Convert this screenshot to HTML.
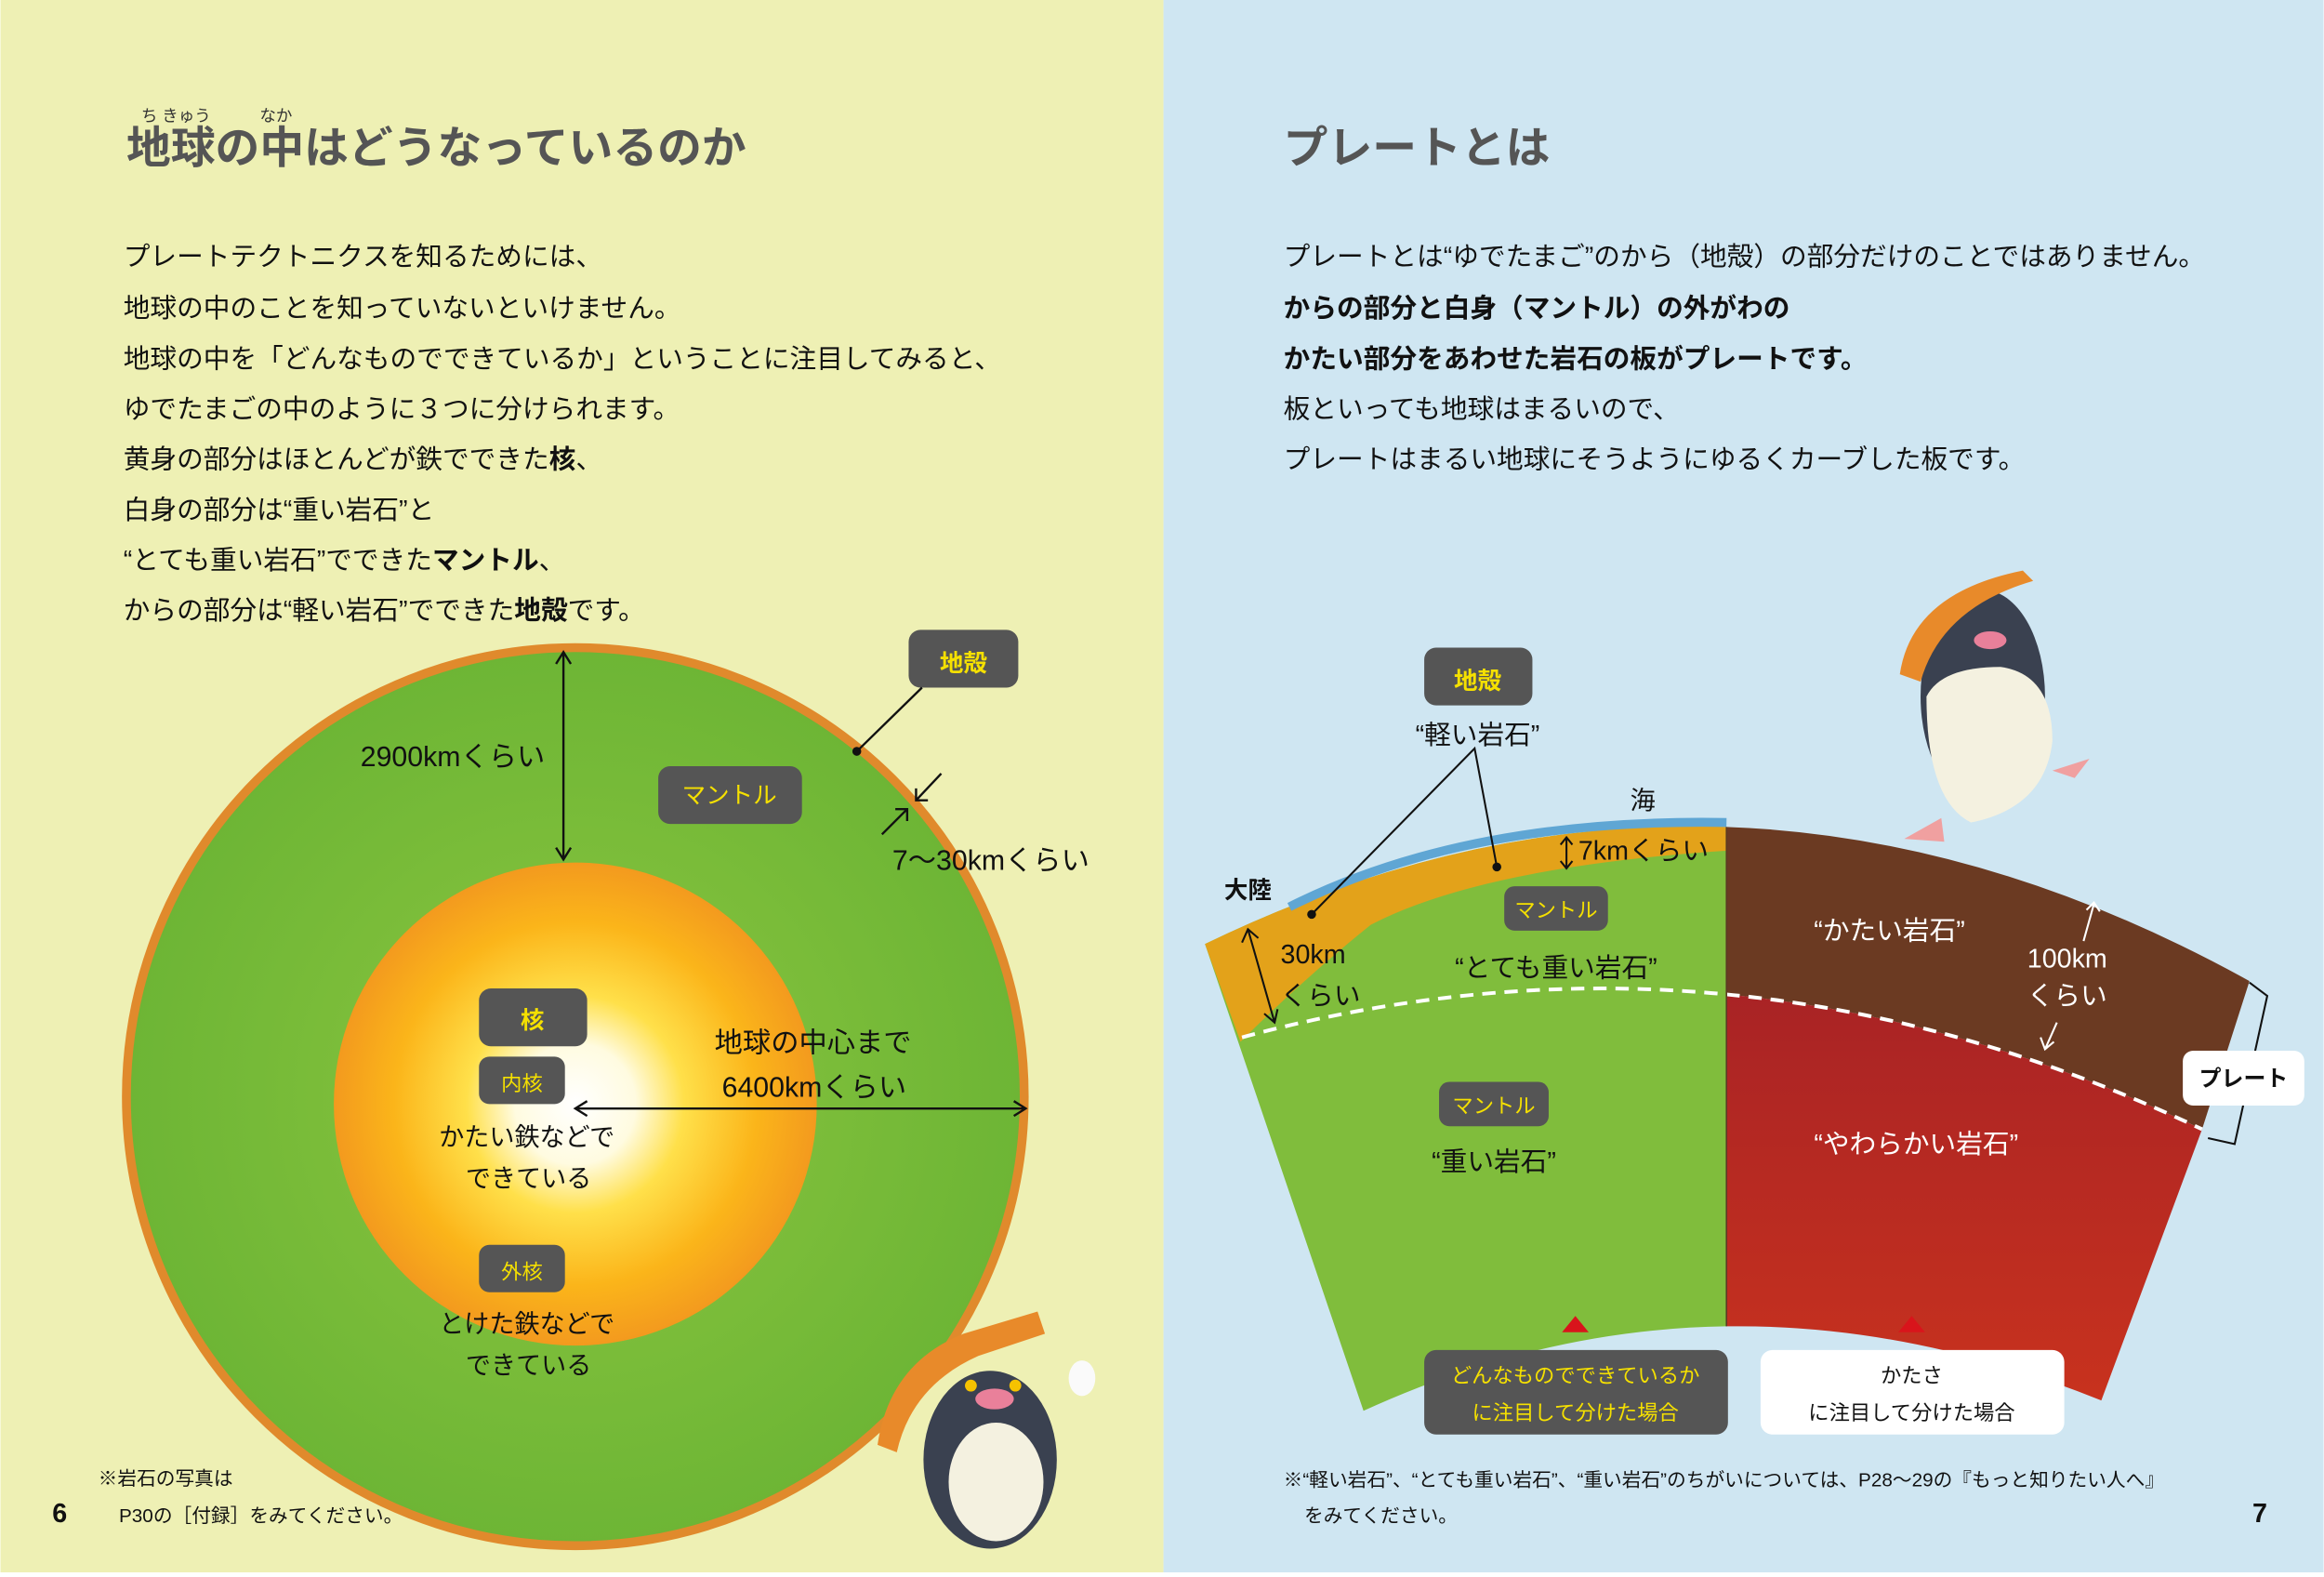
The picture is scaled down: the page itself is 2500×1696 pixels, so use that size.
<!DOCTYPE html>
<html><head><meta charset="utf-8">
<style>
html,body{margin:0;padding:0;}
body{width:2500px;height:1691px;overflow:hidden;}
svg text{font-family:"Liberation Sans","Noto Sans CJK JP",sans-serif;}
</style></head>
<body>
<svg width="2500" height="1691" viewBox="0 0 1568 1061" xmlns="http://www.w3.org/2000/svg">
<defs>
<radialGradient id="core" cx="0.5" cy="0.5" r="0.5">
<stop offset="0" stop-color="#ffffff"/>
<stop offset="0.25" stop-color="#fffbe0"/>
<stop offset="0.45" stop-color="#ffe04a"/>
<stop offset="0.75" stop-color="#fbb51a"/>
<stop offset="1" stop-color="#f39a1e"/>
</radialGradient>
<radialGradient id="grn" cx="0.5" cy="0.5" r="0.5">
<stop offset="0" stop-color="#8cc63f"/>
<stop offset="1" stop-color="#6db535"/>
</radialGradient>
<linearGradient id="red" x1="0" y1="0" x2="0" y2="1">
<stop offset="0" stop-color="#a92325"/>
<stop offset="1" stop-color="#c8321e"/>
</linearGradient>
</defs>
<rect x="0" y="0" width="785" height="1061" fill="#eef0b4"/>
<rect x="785" y="0" width="783" height="1061" fill="#cfe6f2"/>

<!-- LEFT -->
<g font-size="11" fill="#333"><text x="95" y="82">ち きゅう</text><text x="175" y="82">なか</text></g>
<text x="85" y="110" font-size="30" font-weight="bold" fill="#555">地球の中はどうなっているのか</text>
<g font-size="18" fill="#111">
<text x="83" y="179">プレートテクトニクスを知るためには、</text>
<text x="83" y="214">地球の中のことを知っていないといけません。</text>
<text x="83" y="248">地球の中を「どんなものでできているか」ということに注目してみると、</text>
<text x="83" y="282">ゆでたまごの中のように３つに分けられます。</text>
<text x="83" y="316">黄身の部分はほとんどが鉄でできた<tspan font-weight="bold">核</tspan>、</text>
<text x="83" y="350">白身の部分は“重い岩石”と</text>
<text x="83" y="384">“とても重い岩石”でできた<tspan font-weight="bold">マントル</tspan>、</text>
<text x="83" y="418">からの部分は“軽い岩石”でできた<tspan font-weight="bold">地殻</tspan>です。</text>
</g>

<circle cx="388" cy="740" r="303" fill="url(#grn)" stroke="#e08a2c" stroke-width="6"/>
<circle cx="388" cy="745" r="163" fill="url(#core)"/>

<line x1="380" y1="440" x2="380" y2="580" stroke="#111" stroke-width="1.5"/>
<path d="M375 448 L380 440 L385 448 M375 572 L380 580 L385 572" stroke="#111" fill="none" stroke-width="1.5"/>
<text x="243" y="517" font-size="19" fill="#111">2900kmくらい</text>

<rect x="613" y="425" width="74" height="39" rx="8" fill="#555"/>
<text x="650" y="453" font-size="16" fill="#f5e000" text-anchor="middle" font-weight="bold">地殻</text>
<line x1="622" y1="464" x2="578" y2="507" stroke="#111" stroke-width="1.5"/>
<circle cx="578" cy="507" r="3" fill="#111"/>

<rect x="444" y="517" width="97" height="39" rx="8" fill="#555"/>
<text x="492" y="542" font-size="16" fill="#f5e000" text-anchor="middle">マントル</text>

<path d="M635 522 L618 540 M618 532 L618 540 L626 540 M595 563 L612 546 M604 546 L612 546 L612 554" stroke="#111" fill="none" stroke-width="1.5"/>
<text x="602" y="587" font-size="19" fill="#111">7～30kmくらい</text>

<rect x="323" y="667" width="73" height="39" rx="8" fill="#555"/>
<text x="359" y="694" font-size="16" fill="#f5e000" text-anchor="middle" font-weight="bold">核</text>
<rect x="323" y="713" width="58" height="32" rx="7" fill="#555"/>
<text x="352" y="736" font-size="14" fill="#f5e000" text-anchor="middle">内核</text>
<text x="296" y="773" font-size="17" fill="#111">かたい鉄などで</text>
<text x="314" y="801" font-size="17" fill="#111">できている</text>

<text x="482" y="710" font-size="19" fill="#111">地球の中心まで</text>
<text x="487" y="740" font-size="19" fill="#111">6400kmくらい</text>
<line x1="388" y1="748" x2="692" y2="748" stroke="#111" stroke-width="1.5"/>
<path d="M396 743 L388 748 L396 753 M684 743 L692 748 L684 753" stroke="#111" fill="none" stroke-width="1.5"/>

<rect x="323" y="840" width="58" height="32" rx="7" fill="#555"/>
<text x="352" y="863" font-size="14" fill="#f5e000" text-anchor="middle">外核</text>
<text x="296" y="899" font-size="17" fill="#111">とけた鉄などで</text>
<text x="314" y="927" font-size="17" fill="#111">できている</text>

<text x="66" y="1002" font-size="13" fill="#111">※岩石の写真は</text>
<text x="35" y="1027" font-size="18" font-weight="bold" fill="#111">6</text>
<text x="80" y="1027" font-size="13" fill="#111">P30の［付録］をみてください。</text>

<!-- left penguin -->
<path d="M592 975 Q600 920 650 900 L700 885 L705 900 L660 915 Q615 935 605 980 Z" fill="#e88a2a"/>
<ellipse cx="668" cy="985" rx="45" ry="60" fill="#3a4150"/>
<ellipse cx="672" cy="1000" rx="32" ry="40" fill="#f4f1e0"/>
<circle cx="655" cy="935" r="4" fill="#f6c200"/><circle cx="685" cy="935" r="4" fill="#f6c200"/>
<ellipse cx="671" cy="944" rx="13" ry="7" fill="#e9809a"/>
<ellipse cx="730" cy="930" rx="9" ry="12" fill="#fafafa"/>

<!-- RIGHT -->
<text x="866" y="110" font-size="30" font-weight="bold" fill="#555">プレートとは</text>
<g font-size="18" fill="#111">
<text x="866" y="179">プレートとは“ゆでたまご”のから（地殻）の部分だけのことではありません。</text>
<text x="866" y="214" font-weight="bold">からの部分と白身（マントル）の外がわの</text>
<text x="866" y="248" font-weight="bold">かたい部分をあわせた岩石の板がプレートです。</text>
<text x="866" y="282">板といっても地球はまるいので、</text>
<text x="866" y="316">プレートはまるい地球にそうようにゆるくカーブした板です。</text>
</g>

<!-- sector -->
<path d="M813 637 Q988.75 551.75 1165 558 L1165 895 Q1040.5 896.75 920 952 Z" fill="#80bd3c"/>
<path d="M1165 558 Q1341.25 564.25 1518 662 L1486 762 Q1327 686.5 1165 671 Z" fill="#6b3a22"/>
<path d="M1165 671 Q1327 686.5 1486 762 L1418 945 Q1289.5 893.25 1165 895 Z" fill="url(#red)"/>
<path d="M813 637 Q988.75 551.75 1165 558 L1165 574 Q1000 585 925 624 Q880 660 837 703 Z" fill="#e3a21a"/>
<path d="M870 612 Q988.75 552 1165 555" fill="none" stroke="#5fa6d4" stroke-width="6"/>
<path d="M838 700 Q1003 655.5 1165 671 Q1327 686.5 1486 762" fill="none" stroke="#fff" stroke-width="2.5" stroke-dasharray="9 6"/>
<line x1="1165" y1="558" x2="1165" y2="895" stroke="#5a3a22" stroke-width="1"/>

<!-- labels right -->
<rect x="961" y="437" width="73" height="39" rx="8" fill="#555"/>
<text x="997" y="465" font-size="16" fill="#f5e000" text-anchor="middle" font-weight="bold">地殻</text>
<text x="997" y="502" font-size="18" fill="#111" text-anchor="middle">“軽い岩石”</text>
<path d="M885 617 L995 505 L1010 585" stroke="#111" fill="none" stroke-width="1.3"/>
<circle cx="885" cy="617" r="3" fill="#111"/><circle cx="1010" cy="585" r="3" fill="#111"/>
<text x="1100" y="546" font-size="17" fill="#111">海</text>
<text x="826" y="606" font-size="16" fill="#111" font-weight="bold">大陸</text>
<path d="M1057 566 L1057 585 M1053 570 L1057 565 L1061 570 M1053 581 L1057 586 L1061 581" stroke="#111" fill="none" stroke-width="1.3"/>
<text x="1065" y="580" font-size="18" fill="#111">7kmくらい</text>
<rect x="1015" y="598" width="70" height="30" rx="7" fill="#555"/>
<text x="1050" y="619" font-size="14" fill="#f5e000" text-anchor="middle">マントル</text>
<text x="1050" y="659" font-size="18" fill="#111" text-anchor="middle">“とても重い岩石”</text>
<path d="M842 627 L860 690 M838 636 L842 627 L849 633 M853 684 L860 690 L862 681" stroke="#111" fill="none" stroke-width="1.3"/>
<text x="864" y="650" font-size="18" fill="#111">30km</text>
<text x="864" y="678" font-size="18" fill="#111">くらい</text>
<text x="1275" y="634" font-size="18" fill="#fff" text-anchor="middle">“かたい岩石”</text>
<path d="M1413 610 L1406 635 M1408 614 L1413 609 L1417 615 M1388 690 L1380 708 M1377 700 L1380 708 L1386 703" stroke="#fff" fill="none" stroke-width="1.3"/>
<text x="1368" y="653" font-size="18" fill="#fff">100km</text>
<text x="1368" y="678" font-size="18" fill="#fff">くらい</text>
<path d="M1518 663 L1530 672 L1508 772 L1490 768" stroke="#111" fill="none" stroke-width="1.3"/>
<rect x="1473" y="709" width="82" height="37" rx="7" fill="#fff"/>
<text x="1514" y="733" font-size="15" fill="#111" text-anchor="middle" font-weight="bold">プレート</text>
<rect x="971" y="730" width="74" height="30" rx="7" fill="#555"/>
<text x="1008" y="751" font-size="14" fill="#f5e000" text-anchor="middle">マントル</text>
<text x="1008" y="790" font-size="18" fill="#111" text-anchor="middle">“重い岩石”</text>
<text x="1293" y="778" font-size="18" fill="#fff" text-anchor="middle">“やわらかい岩石”</text>
<path d="M1054 899 L1063 888 L1072 899 Z" fill="#d9141b"/>
<path d="M1281 899 L1290 888 L1299 899 Z" fill="#d9141b"/>
<rect x="961" y="911" width="205" height="57" rx="8" fill="#555"/>
<text x="1063" y="933" font-size="14" fill="#f5e000" text-anchor="middle">どんなものでできているか</text>
<text x="1063" y="958" font-size="14" fill="#f5e000" text-anchor="middle">に注目して分けた場合</text>
<rect x="1188" y="911" width="205" height="57" rx="8" fill="#fff"/>
<text x="1290" y="933" font-size="14" fill="#111" text-anchor="middle">かたさ</text>
<text x="1290" y="958" font-size="14" fill="#111" text-anchor="middle">に注目して分けた場合</text>

<text x="866" y="1003" font-size="13" fill="#111">※“軽い岩石”、“とても重い岩石”、“重い岩石”のちがいについては、P28～29の『もっと知りたい人へ』</text>
<text x="880" y="1027" font-size="13" fill="#111">をみてください。</text>
<text x="1520" y="1027" font-size="18" font-weight="bold" fill="#111">7</text>

<!-- right penguin -->
<ellipse cx="1338" cy="470" rx="42" ry="72" fill="#3a4150"/>
<path d="M1300 470 Q1300 540 1330 555 Q1380 545 1385 500 Q1385 455 1350 450 Q1310 450 1300 470 Z" fill="#f4f1e0"/>
<path d="M1282 455 Q1290 400 1365 385 L1372 392 Q1310 410 1296 460 Z" fill="#e88a2a"/>
<ellipse cx="1343" cy="432" rx="11" ry="6" fill="#e9809a"/>
<path d="M1310 552 L1285 566 L1312 568 Z M1385 520 L1410 512 L1400 525 Z" fill="#f0a0a0"/>
</svg>
</body></html>
